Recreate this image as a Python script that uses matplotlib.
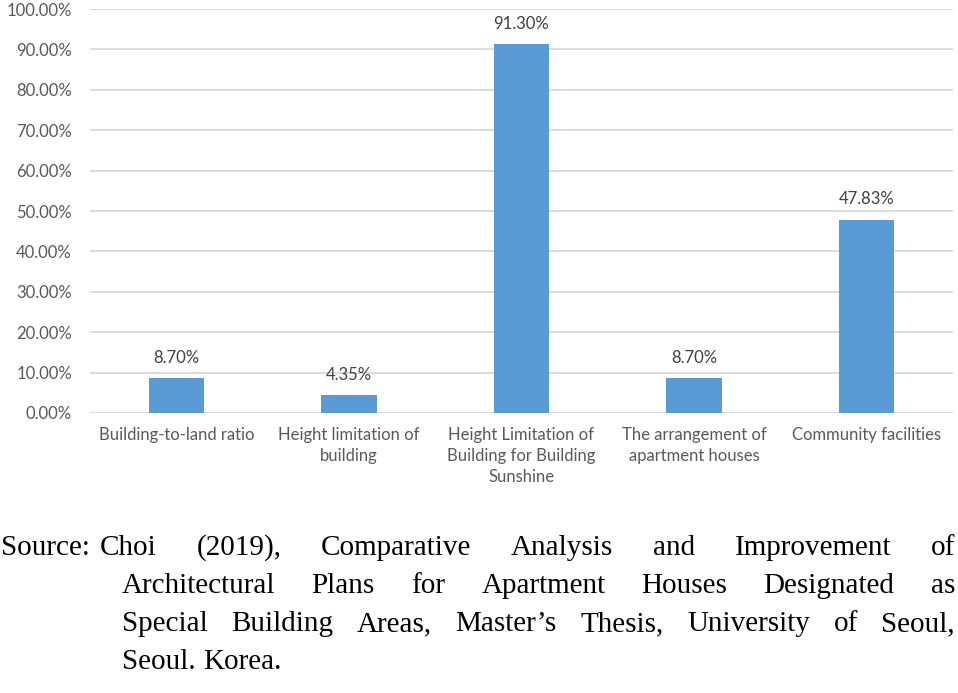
import matplotlib.pyplot as plt
from matplotlib.ticker import FuncFormatter

categories = [
    "Building-to-land ratio",
    "Height limitation of\nbuilding",
    "Height Limitation of\nBuilding for Building\nSunshine",
    "The arrangement of\napartment houses",
    "Community facilities",
]
values = [8.70, 4.35, 91.30, 8.70, 47.83]
y_ticks = [0, 10, 20, 30, 40, 50, 60, 70, 80, 90, 100]

source_label = "Source:"
source_lines = [
    "Choi (2019), Comparative Analysis and Improvement of",
    "Architectural Plans for Apartment Houses Designated as",
    "Special Building Areas, Master\u2019s Thesis, University of Seoul,",
    "Seoul. Korea.",
]

W, H = 958, 693
fig = plt.figure(figsize=(W / 100, H / 100), dpi=100)
ax = fig.add_axes([90 / W, 1 - 413 / H, (953 - 90) / W, (413 - 9) / H])

x = list(range(len(categories)))
ax.bar(x, values, width=0.32, color="#5B9BD5", zorder=3)
ax.set_xlim(-0.5, len(categories) - 0.5)
ax.set_ylim(0, 100)
ax.set_yticks(y_ticks)
ax.yaxis.set_major_formatter(FuncFormatter(lambda v, p: f"{v:.2f}%"))
ax.grid(axis="y", color="#D9D9D9", linewidth=1.3, zorder=0)
for s in ax.spines.values():
    s.set_visible(False)
ax.tick_params(axis="both", length=0, labelsize=12, labelcolor="#595959")
ax.tick_params(axis="y", pad=13)
ax.tick_params(axis="x", pad=10)
ax.set_xticks(x)
ax.set_xticklabels(categories, linespacing=1.4)
for lbl in ax.get_xticklabels() + ax.get_yticklabels():
    lbl.set_family("Lato")

for xi, v in zip(x, values):
    ax.annotate(f"{v:.2f}%", (xi, v), xytext=(0, 11), textcoords="offset points",
                ha="center", va="baseline", fontsize=12, color="#404040", family="Lato")

# justified source note below the chart
renderer = fig.canvas.get_renderer()
fs = 21
serif = "Liberation Serif"
baselines = [555, 593, 631, 669]
src = fig.text(1 / W, 1 - baselines[0] / H, source_label, fontsize=fs, family=serif, va="baseline")
first_start = 1 + src.get_window_extent(renderer).width + 10
starts = [first_start, 122, 122, 122]
right = 955
for i, line in enumerate(source_lines):
    words = line.split(" ")
    texts = [fig.text(0, 1 - baselines[i] / H, w, fontsize=fs, family=serif, va="baseline")
             for w in words]
    widths = [t.get_window_extent(renderer).width for t in texts]
    if i == len(source_lines) - 1:
        gap = fs * 0.25 * 100 / 72
    else:
        gap = (right - starts[i] - sum(widths)) / (len(words) - 1)
    pos = starts[i]
    for t, w in zip(texts, widths):
        t.set_x(pos / W)
        pos += w + gap

fig.savefig("out.png", dpi=100)
